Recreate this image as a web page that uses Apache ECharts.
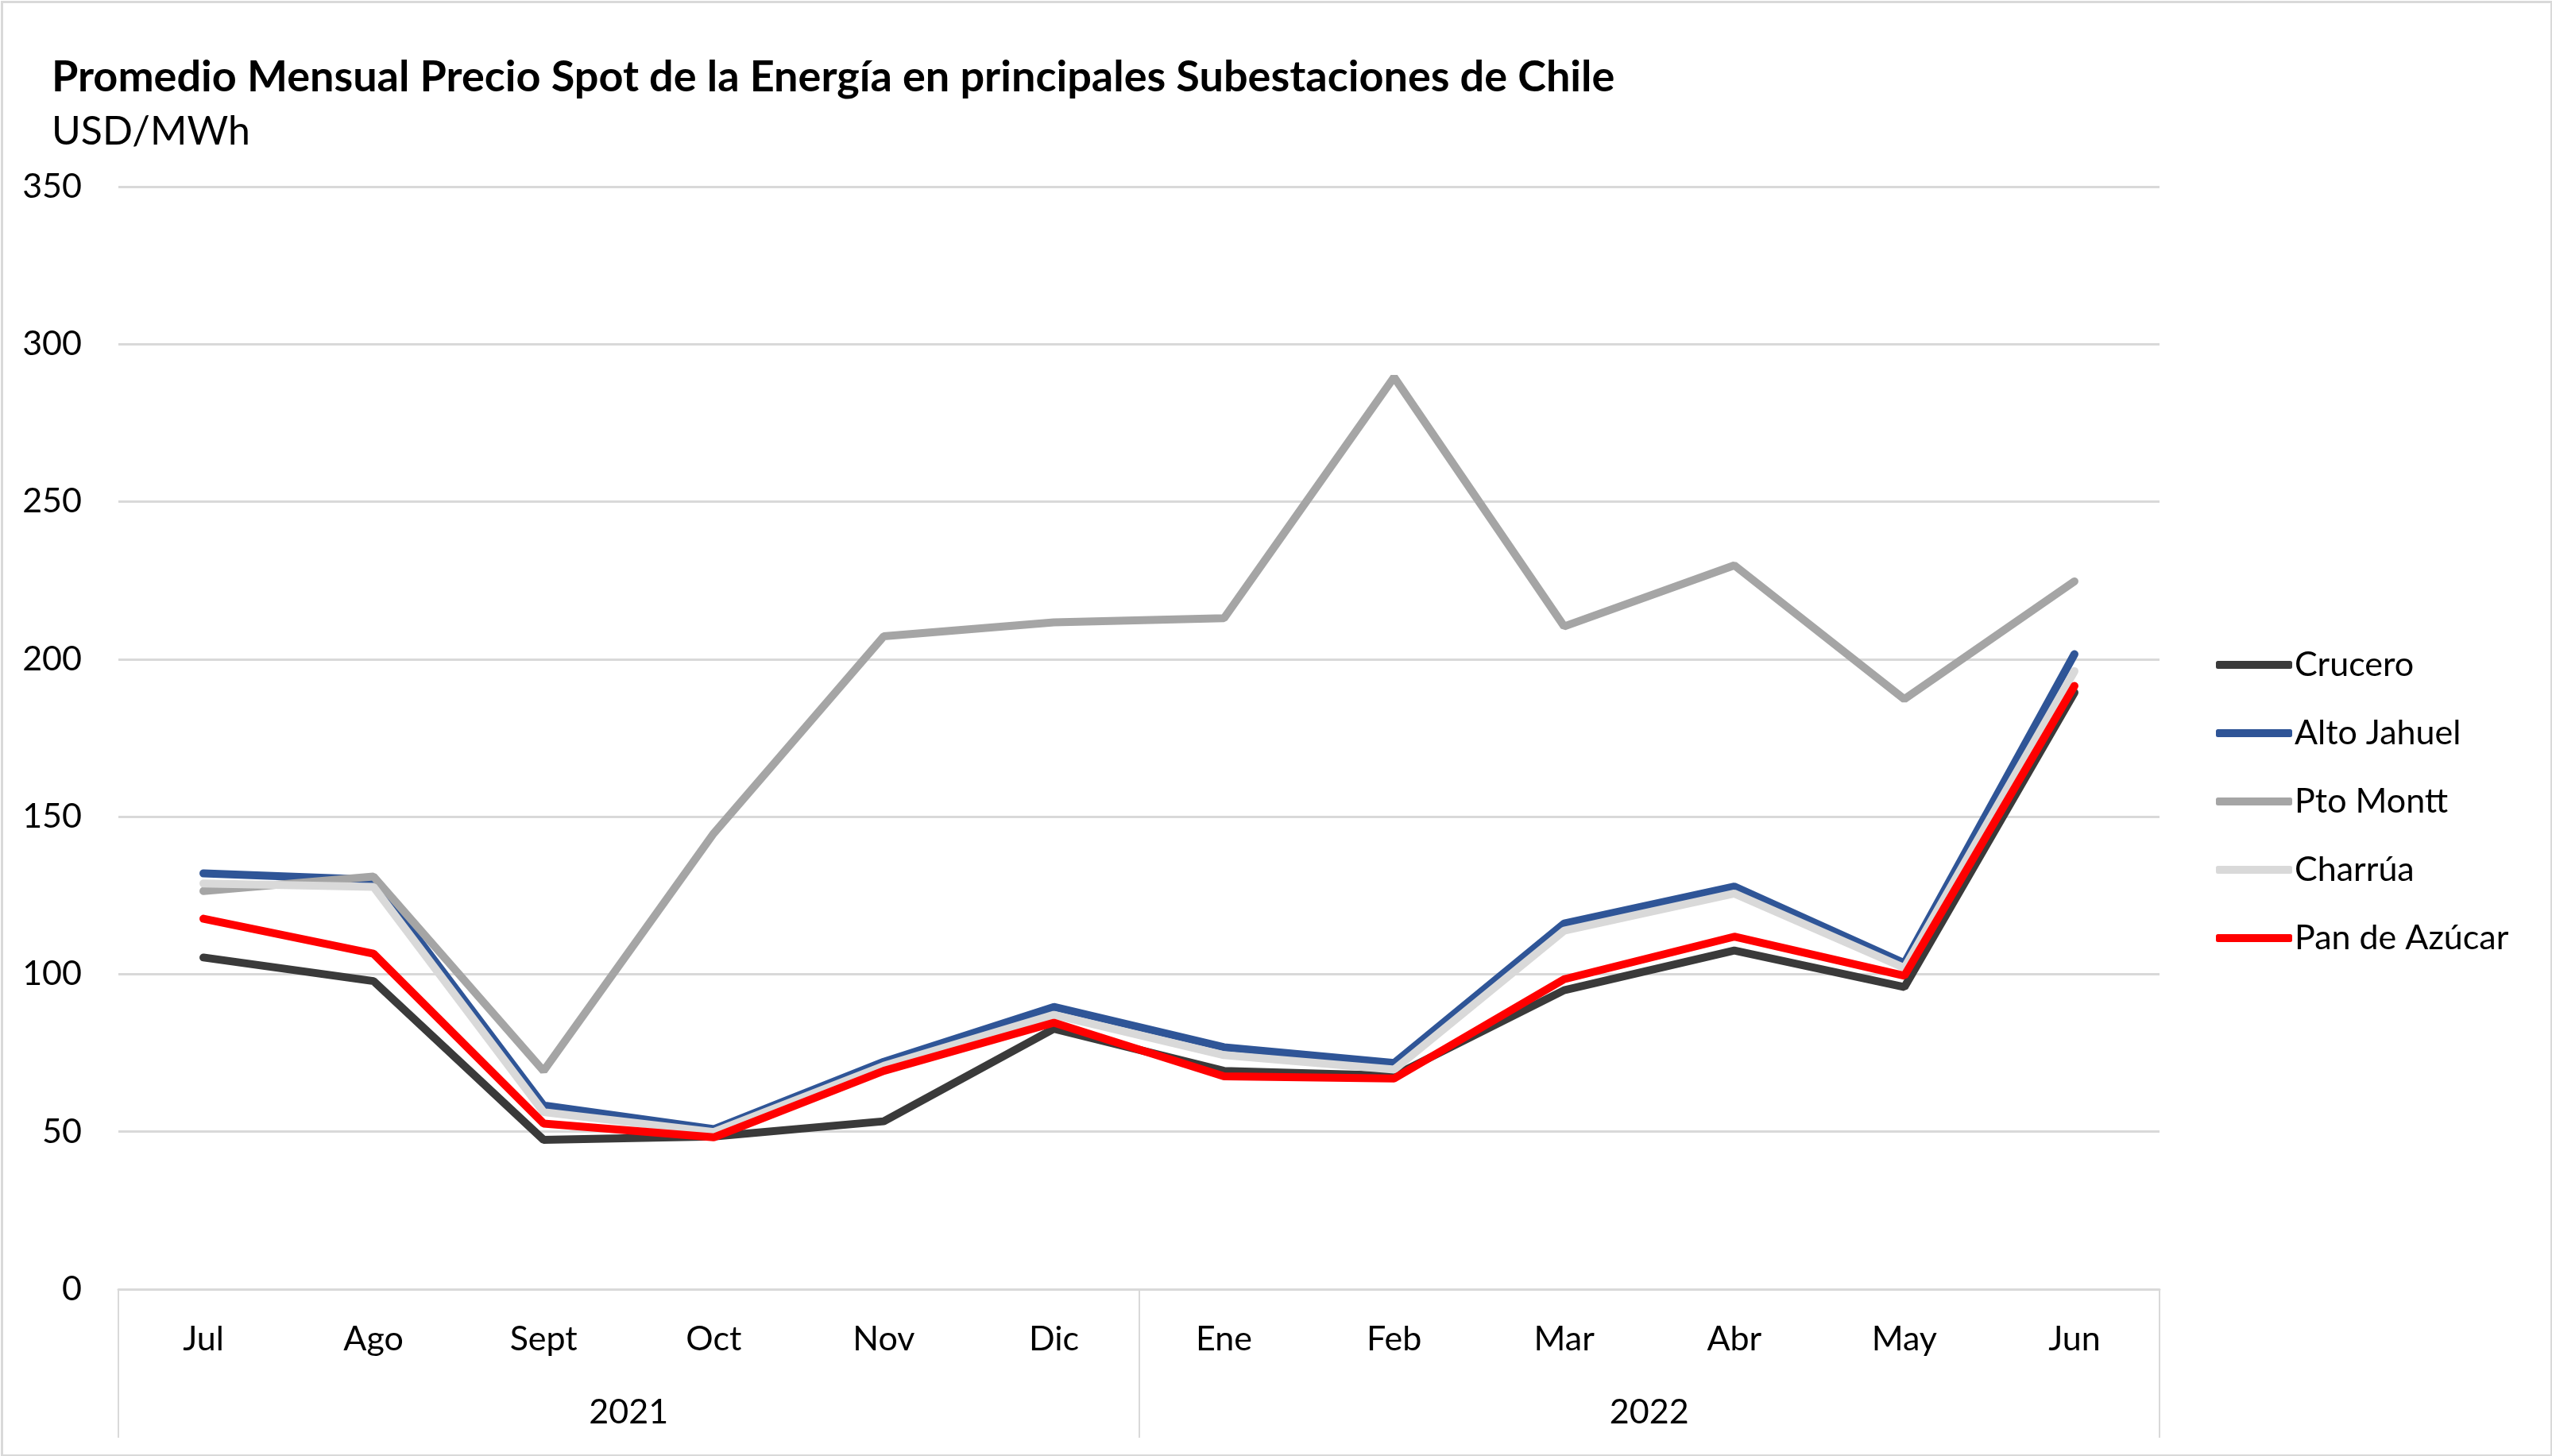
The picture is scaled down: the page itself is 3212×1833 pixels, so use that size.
<!DOCTYPE html>
<html>
<head>
<meta charset="utf-8">
<script src="https://cdn.jsdelivr.net/npm/echarts@6/dist/echarts.min.js"></script>
<style>
html,body{margin:0;padding:0;background:#fff;}
#c{width:3212px;height:1833px;}
</style>
</head>
<body>
<div id="c"></div>
<script>
const months = ['Jul','Ago','Sept','Oct','Nov','Dic','Ene','Feb','Mar','Abr','May','Jun'];
const years = ['2021','2022'];
const crucero = [105.3, 97.8, 47.4, 48.5, 53.3, 82.7, 69.3, 67.8, 94.9, 107.5, 95.9, 189.4];
const altoJahuel = [132.0, 130.0, 58.3, 50.8, 72.2, 89.6, 76.8, 71.8, 116.1, 127.8, 103.5, 201.6];
const ptoMontt = [126.4, 131.0, 69.3, 144.7, 207.3, 211.7, 213.0, 289.5, 210.4, 229.8, 187.3, 224.7];
const charrua = [128.8, 127.7, 56.2, 49.9, 70.9, 87.1, 74.3, 69.7, 113.8, 125.6, 102.0, 196.2];
const panDeAzucar = [117.6, 106.5, 52.6, 48.2, 69.3, 84.6, 67.6, 66.9, 98.4, 111.9, 99.5, 191.5];
const yTicks = {min: 0, max: 350, interval: 50};

const FONT = 'Lato';
const seriesDefs = [
  {name: 'Crucero', data: crucero, color: '#3a3a3a'},
  {name: 'Alto Jahuel', data: altoJahuel, color: '#2f5597'},
  {name: 'Pto Montt', data: ptoMontt, color: '#a5a5a5'},
  {name: 'Charrúa', data: charrua, color: '#d9d9d9'},
  {name: 'Pan de Azúcar', data: panDeAzucar, color: '#ff0000'}
];

const chart = echarts.init(document.getElementById('c'), null, {renderer: 'canvas'});
chart.setOption({
  backgroundColor: '#fff',
  animation: false,
  textStyle: {fontFamily: FONT},
  title: [
    {text: 'Promedio Mensual Precio Spot de la Energía en principales Subestaciones de Chile',
     left: 60, top: 66,
     textStyle: {fontFamily: FONT, fontSize: 54, fontWeight: 'bold', color: '#000'}},
    {text: 'USD/MWh', left: 60, top: 136,
     textStyle: {fontFamily: FONT, fontSize: 50, fontWeight: 'normal', color: '#000'}}
  ],
  graphic: [{
    type: 'rect', left: 0, top: 0, silent: true,
    shape: {x: 1.5, y: 1.5, width: 3209, height: 1830},
    style: {fill: 'none', stroke: '#d9d9d9', lineWidth: 3}
  }],
  legend: {
    orient: 'vertical',
    left: 2784, top: 809,
    icon: 'roundRect',
    itemWidth: 96, itemHeight: 10, itemGap: 40,
    textStyle: {fontFamily: FONT, fontSize: 43, color: '#000', lineHeight: 46, padding: [0,0,0,-2]},
    data: seriesDefs.map(s => s.name)
  },
  grid: {left: 149, right: 494, top: 235, bottom: 210, containLabel: false},
  xAxis: [
    {type: 'category', data: months, boundaryGap: true, position: 'bottom',
     axisLine: {show: true, lineStyle: {color: '#d9d9d9', width: 3}},
     axisTick: {show: false},
     axisLabel: {margin: 42, fontFamily: FONT, fontSize: 43, color: '#000'}},
    {type: 'category', data: years, boundaryGap: true, position: 'bottom',
     axisLine: {show: false},
     axisTick: {show: true, length: 187, lineStyle: {color: '#d9d9d9', width: 2}},
     axisLabel: {margin: 134, fontFamily: FONT, fontSize: 43, color: '#000'}}
  ],
  yAxis: {
    type: 'value', min: yTicks.min, max: yTicks.max, interval: yTicks.interval,
    axisLine: {show: false}, axisTick: {show: false},
    splitLine: {show: true, lineStyle: {color: '#d9d9d9', width: 3}},
    axisLabel: {margin: 46, fontFamily: FONT, fontSize: 43, color: '#000'}
  },
  series: seriesDefs.map(s => ({
    name: s.name, type: 'line', data: s.data, xAxisIndex: 0,
    symbol: 'none', smooth: false,
    itemStyle: {color: s.color},
    lineStyle: {color: s.color, width: 10, cap: 'round'}
  }))
});
</script>
</body>
</html>
